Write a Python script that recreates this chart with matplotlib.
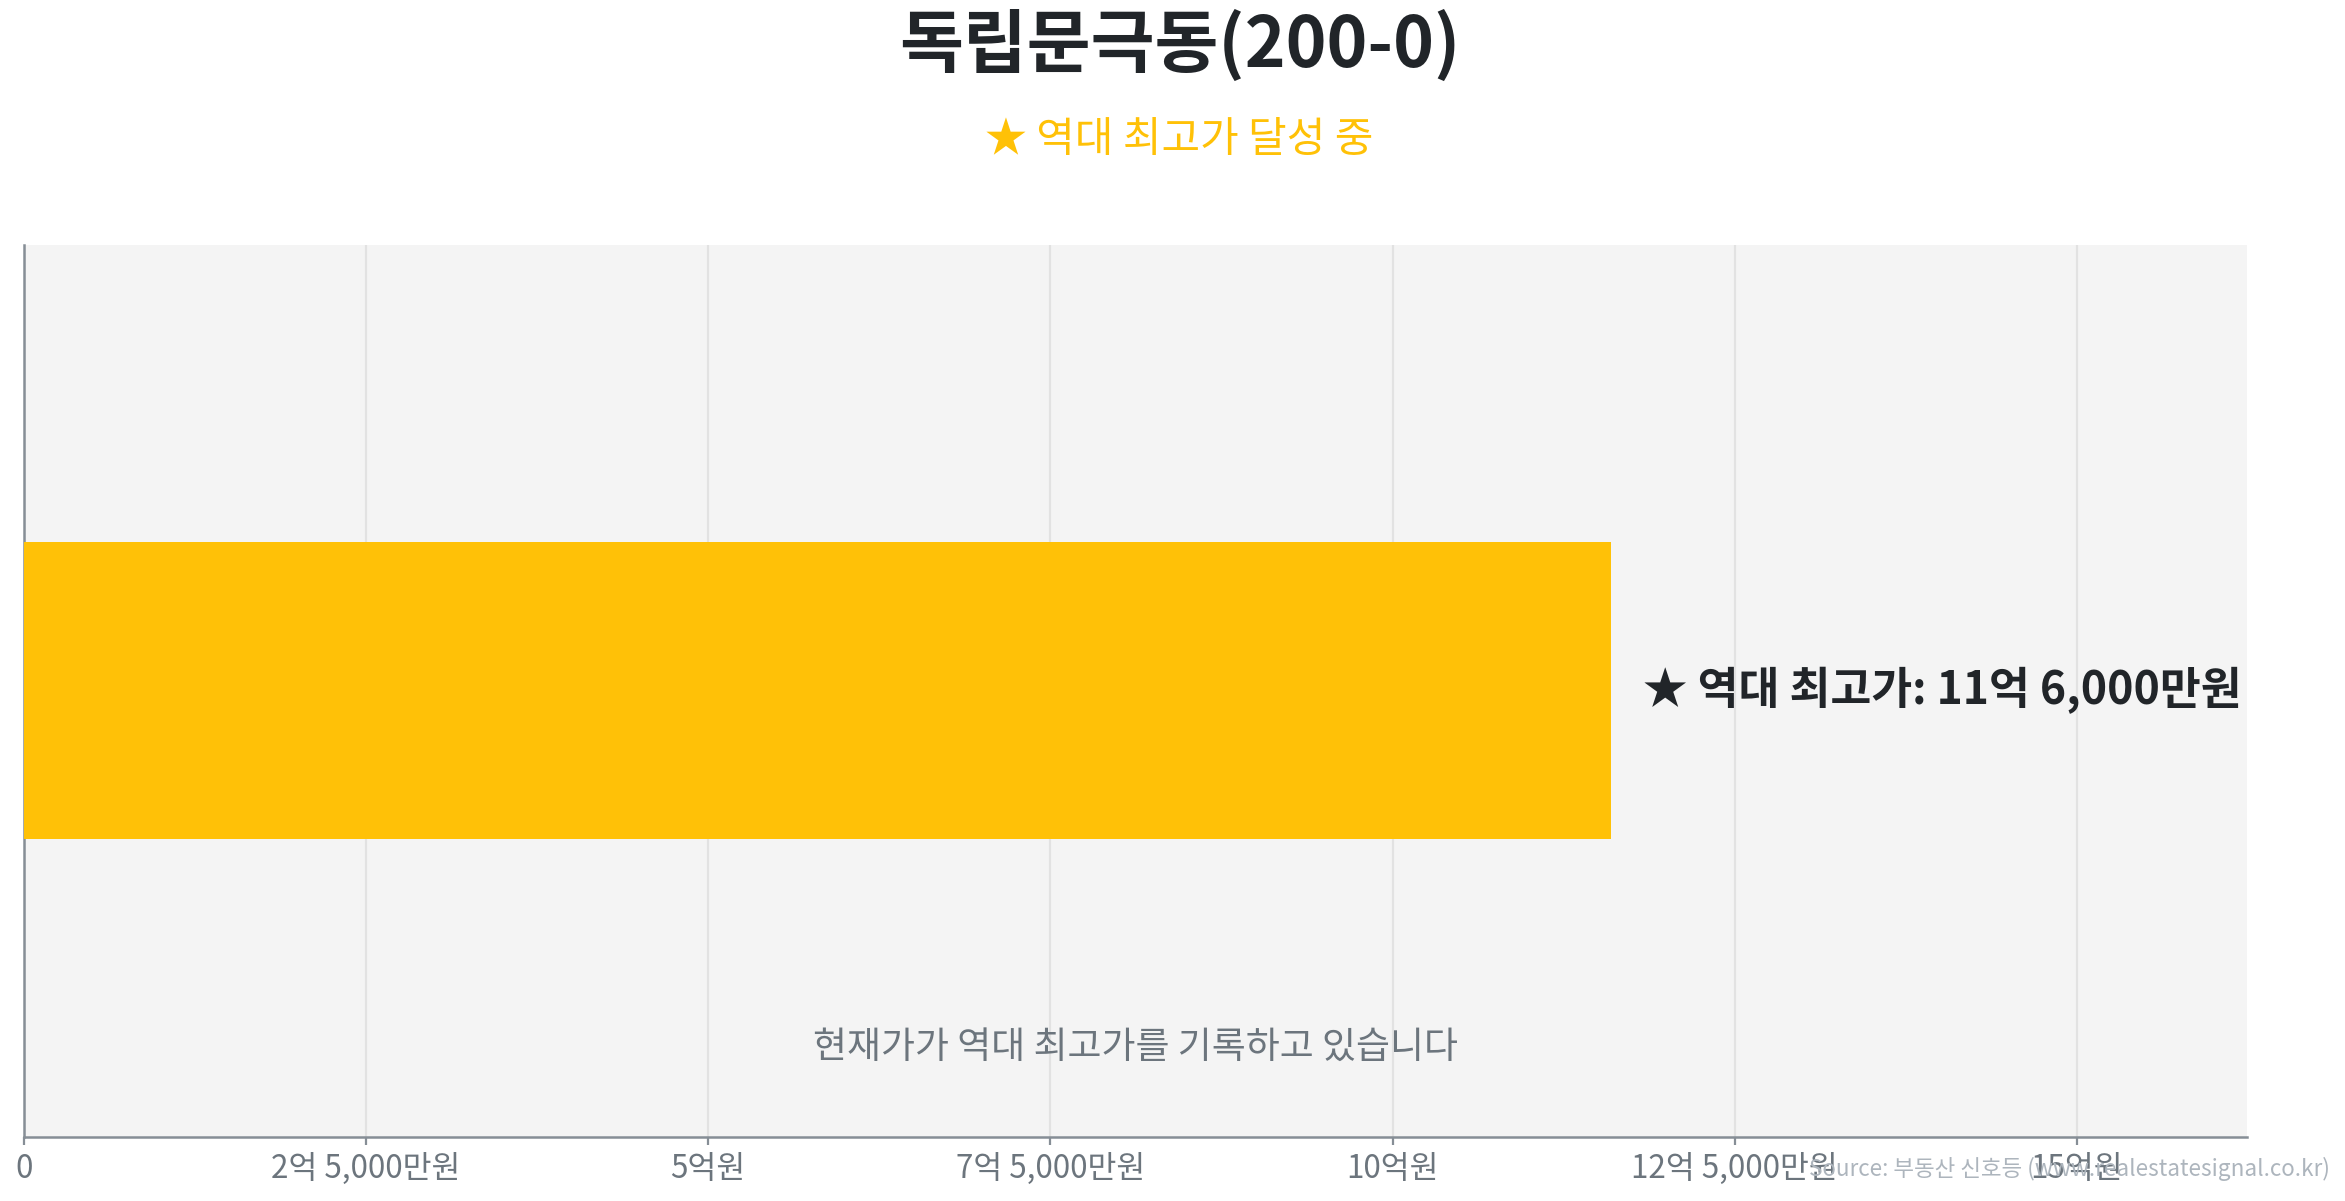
import matplotlib
matplotlib.use('Agg')
import matplotlib.pyplot as plt
from matplotlib.ticker import FuncFormatter, MultipleLocator

plt.rcParams['font.family'] = ['Noto Sans CJK KR', 'DejaVu Sans']

# data (values in 억원)
apt_name = '독립문극동(200-0)'
labels = ['독립문극동']
record_high = [11.6]
subtitle = '★ 역대 최고가 달성 중'
note = '현재가가 역대 최고가를 기록하고 있습니다'
source = 'Source: 부동산 신호등 (www.realestatesignal.co.kr)'

AMBER = '#FFC107'
DARK = '#212529'
GRAY = '#6c757d'


def won_fmt(v, pos=None):
    if v == 0:
        return '0'
    eok = int(v)
    man = int(round((v - eok) * 10000))
    if man == 0:
        return '{}억원'.format(eok)
    if eok == 0:
        return '{:,}만원'.format(man)
    return '{}억 {:,}만원'.format(eok, man)


fig = plt.figure(figsize=(2345 / 200, 1201 / 200), dpi=200)
ax = fig.add_axes([0.0102, 0.0537, 0.9478, 0.7423])
ax.set_facecolor('#f4f4f4')

ax.barh([0], record_high, height=1.0, color=AMBER, zorder=3)
ax.set_xlim(0, max(record_high) * 1.4)
ax.set_ylim(-1.5, 1.5)

val = record_high[0]
ax.text(val * 1.02, 0, '★ 역대 최고가: ' + won_fmt(val), va='center', ha='left',
        fontsize=16, fontweight='bold', color=DARK, zorder=4)
ax.text(0.5, 0.1, note, transform=ax.transAxes, ha='center', va='center',
        fontsize=13.3, color=GRAY)

ax.xaxis.set_major_locator(MultipleLocator(2.5))
ax.xaxis.set_major_formatter(FuncFormatter(won_fmt))
ax.set_yticks([])
ax.grid(axis='x', color='#e2e2e2', linewidth=0.8, zorder=0)
ax.set_axisbelow(True)
for s in ['top', 'right']:
    ax.spines[s].set_visible(False)
for s in ['left', 'bottom']:
    ax.spines[s].set_color('#868e96')
    ax.spines[s].set_linewidth(0.9)
ax.tick_params(axis='x', colors='#868e96', labelcolor=GRAY, labelsize=11.3, length=3, pad=3)

fig.text(0.503, 0.962, apt_name, ha='center', va='center', fontsize=25,
         fontweight='bold', color=DARK)
fig.text(0.503, 0.883, subtitle, ha='center', va='center', fontsize=15.1, color=AMBER)
fig.text(0.9935, 0.027, source, ha='right', va='center', fontsize=8.1, color='#adb5bd')

fig.savefig('out.png', dpi=200)
